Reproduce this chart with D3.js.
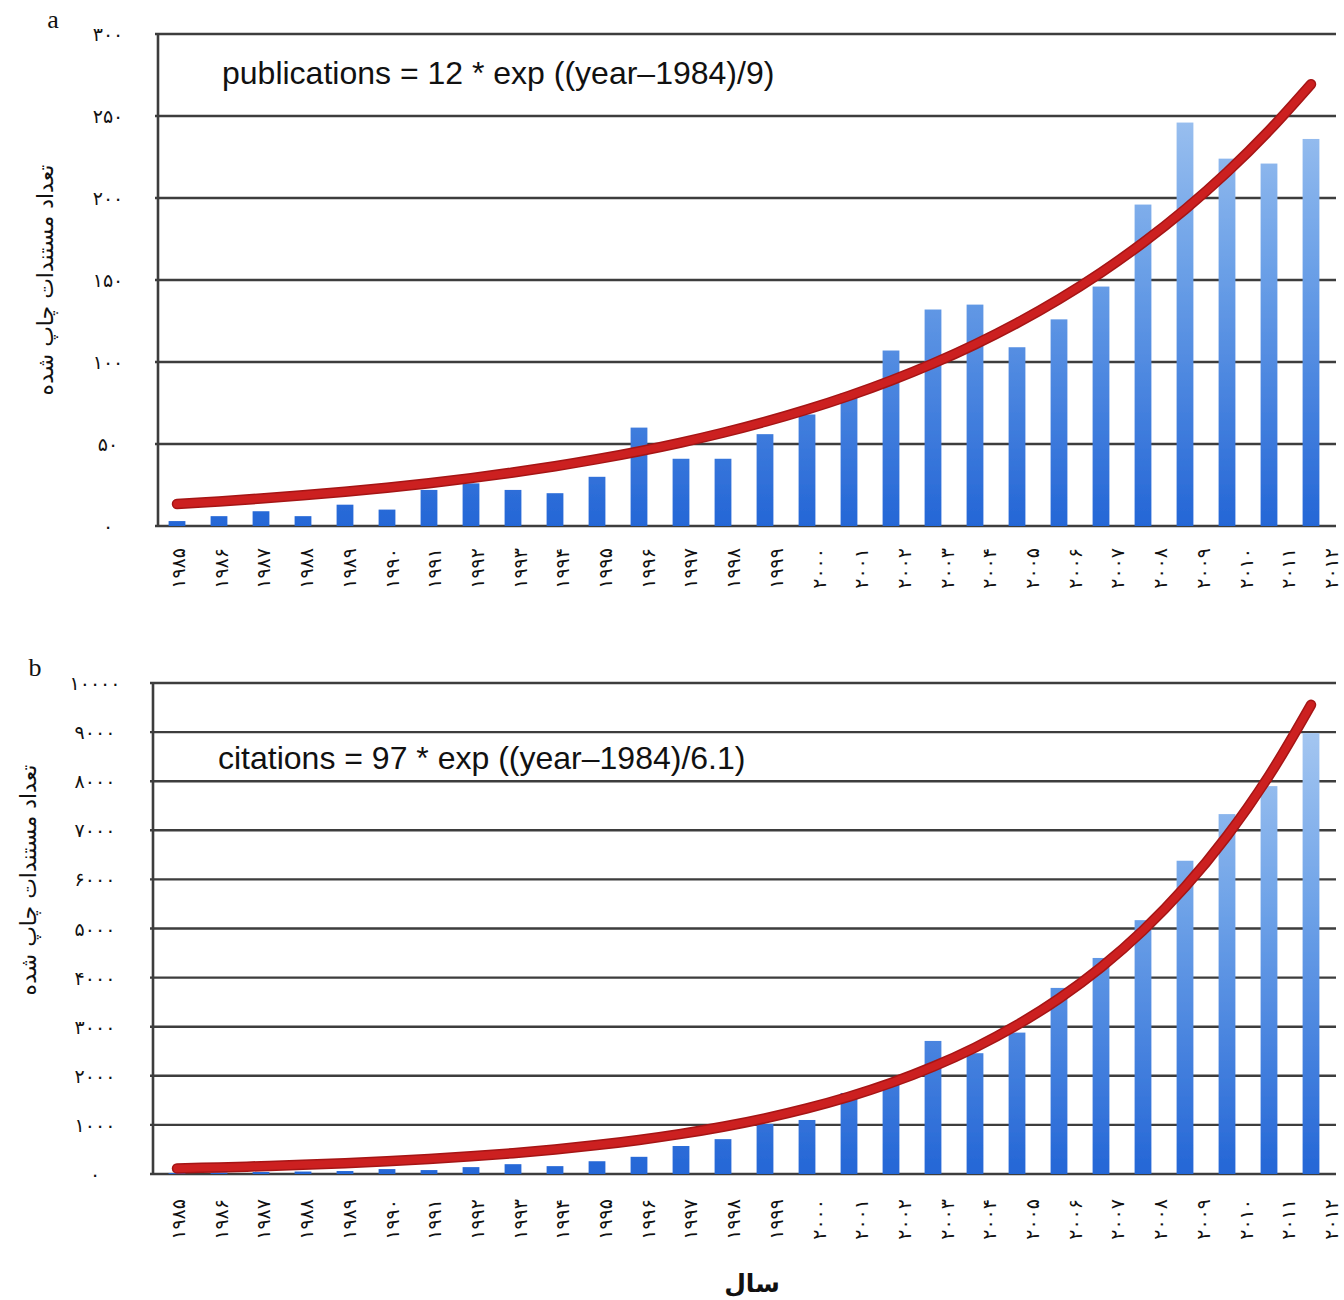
<!DOCTYPE html>
<html>
<head>
<meta charset="utf-8">
<script src="https://cdn.jsdelivr.net/npm/d3@7/dist/d3.min.js"></script>
<style>
  html, body { margin: 0; padding: 0; background: #fff; }
  svg { display: block; }
</style>
</head>
<body>
<svg id="chart" width="1344" height="1300"></svg>
<script>
// Years on the x axis (shared by both panels)
const years = [1985, 1986, 1987, 1988, 1989, 1990, 1991, 1992, 1993, 1994,
  1995, 1996, 1997, 1998, 1999, 2000, 2001, 2002, 2003, 2004,
  2005, 2006, 2007, 2008, 2009, 2010, 2011, 2012];

// Panel a: number of publications per year
const publications = [3, 6, 9, 6, 13, 10, 22, 26, 22, 20,
  30, 60, 41, 41, 56, 68, 81, 107, 132, 135,
  109, 126, 146, 196, 246, 224, 221, 236];

// Panel b: number of citations per year
const citations = [20, 30, 40, 50, 60, 100, 80, 140, 200, 160,
  260, 350, 570, 710, 1020, 1100, 1650, 1850, 2710, 2460,
  2880, 3790, 4400, 5170, 6380, 7330, 7900, 8980];

// Exponential fits printed on each panel: value = A * exp((year - Y0) / T)
const pubFit = { A: 12, Y0: 1984, T: 9 };
const citFit = { A: 97, Y0: 1984, T: 6.1 };

// Tick values of the y axes
const pubTicks = [0, 50, 100, 150, 200, 250, 300];
const citTicks = [0, 1000, 2000, 3000, 4000, 5000, 6000, 7000, 8000, 9000, 10000];

const faDigits = "۰۱۲۳۴۵۶۷۸۹";
const toFa = v => String(v).replace(/[0-9]/g, d => faDigits[+d]);

const svg = d3.select("#chart");

const defs = svg.append("defs");
defs.append("filter").attr("id", "soft")
  .append("feGaussianBlur").attr("stdDeviation", 0.7);

function panel(cfg) {
  const { top, bottom, left, right, yMax, ticks, values, fit, labelX,
          formula, formulaX, formulaY, letter, letterX, letterY,
          titleX, titleY, tickLabelY, gradId } = cfg;

  const x = d3.scaleBand().domain(years).range([156, 1332]).paddingInner(0.6).paddingOuter(0.3);
  const xLabel = d3.scalePoint().domain(years).range([178, 1331]);
  const y = d3.scaleLinear().domain([0, yMax]).range([bottom, top]);

  // vertical gradient for the bars: light at the top, deep blue at the base
  const grad = defs.append("linearGradient").attr("id", gradId)
    .attr("gradientUnits", "userSpaceOnUse")
    .attr("x1", 0).attr("x2", 0).attr("y1", top).attr("y2", bottom);
  grad.append("stop").attr("offset", "0%").attr("stop-color", "#b3d0f3");
  grad.append("stop").attr("offset", "45%").attr("stop-color", "#6fa3e8");
  grad.append("stop").attr("offset", "100%").attr("stop-color", "#2466d6");

  const g = svg.append("g");

  // horizontal grid lines
  g.append("g").selectAll("line").data(ticks).join("line")
    .attr("x1", left - 3).attr("x2", right)
    .attr("y1", d => y(d)).attr("y2", d => y(d))
    .attr("stroke", "#3d3d3d").attr("stroke-width", 2.4);

  // y axis tick labels
  g.append("g").selectAll("text").data(ticks).join("text")
    .attr("x", labelX).attr("y", d => y(d))
    .attr("text-anchor", "middle").attr("dominant-baseline", "central")
    .attr("font-family", "DejaVu Sans, sans-serif").attr("font-size", 19)
    .attr("fill", "#111")
    .text(d => toFa(d));

  // bars
  g.append("g").attr("filter", "url(#soft)").selectAll("rect").data(values).join("rect")
    .attr("x", (d, i) => x(years[i]))
    .attr("width", x.bandwidth())
    .attr("y", d => y(d))
    .attr("height", d => bottom - y(d))
    .attr("fill", `url(#${gradId})`);

  // left axis line
  g.append("line").attr("x1", left).attr("x2", left).attr("y1", top - 1).attr("y2", bottom + 1)
    .attr("stroke", "#3d3d3d").attr("stroke-width", 2.6);

  // fitted exponential curve
  const fitVals = years.map(yr => fit.A * Math.exp((yr - fit.Y0) / fit.T));
  const line = d3.line()
    .x((d, i) => x(years[i]) + x.bandwidth() / 2)
    .y(d => y(d))
    .curve(d3.curveCatmullRom);
  g.append("path").datum(fitVals)
    .attr("d", line)
    .attr("fill", "none")
    .attr("stroke", "#a51515").attr("stroke-width", 10.5)
    .attr("stroke-linecap", "round").attr("stroke-linejoin", "round");
  g.append("path").datum(fitVals)
    .attr("d", line)
    .attr("fill", "none")
    .attr("stroke", "#cc2020").attr("stroke-width", 7.5)
    .attr("stroke-linecap", "round").attr("stroke-linejoin", "round");

  // x axis tick labels (rotated Persian years)
  g.append("g").selectAll("text").data(years).join("text")
    .attr("transform", d => `translate(${xLabel(d)},${tickLabelY}) rotate(-90)`)
    .attr("text-anchor", "end").attr("dominant-baseline", "central")
    .attr("font-family", "DejaVu Sans, sans-serif").attr("font-size", 19)
    .attr("fill", "#111")
    .text(d => toFa(d));

  // fit equation
  g.append("text").attr("x", formulaX).attr("y", formulaY)
    .attr("font-family", "Liberation Sans, Arial, sans-serif").attr("font-size", 32)
    .attr("fill", "#111")
    .text(formula);

  // panel letter
  g.append("text").attr("x", letterX).attr("y", letterY)
    .attr("font-family", "Liberation Serif, Times New Roman, serif").attr("font-size", 26)
    .attr("fill", "#111").attr("text-anchor", "middle")
    .text(letter);

  // y axis title
  g.append("text")
    .attr("transform", `translate(${titleX},${titleY}) rotate(-90)`)
    .attr("text-anchor", "middle").attr("dominant-baseline", "central")
    .attr("font-family", "DejaVu Sans, sans-serif").attr("font-size", 22)
    .attr("fill", "#111")
    .text("تعداد مستندات چاپ شده");
}

panel({
  top: 34, bottom: 526, left: 158, right: 1336, yMax: 300, ticks: pubTicks,
  values: publications, fit: pubFit, labelX: 108,
  formula: "publications = 12 * exp ((year\u20131984)/9)", formulaX: 222, formulaY: 84,
  letter: "a", letterX: 53, letterY: 28, titleX: 45, titleY: 280,
  tickLabelY: 548, gradId: "barGradA"
});

panel({
  top: 683, bottom: 1174, left: 153, right: 1336, yMax: 10000, ticks: citTicks,
  values: citations, fit: citFit, labelX: 95,
  formula: "citations = 97 * exp ((year\u20131984)/6.1)", formulaX: 218, formulaY: 769,
  letter: "b", letterX: 35, letterY: 676, titleX: 28, titleY: 880,
  tickLabelY: 1199, gradId: "barGradB"
});

// x axis title
svg.append("text").attr("x", 752).attr("y", 1292)
  .attr("text-anchor", "middle")
  .attr("font-family", "DejaVu Sans, sans-serif").attr("font-size", 25).attr("font-weight", "bold")
  .attr("fill", "#111")
  .text("سال");
</script>
</body>
</html>
